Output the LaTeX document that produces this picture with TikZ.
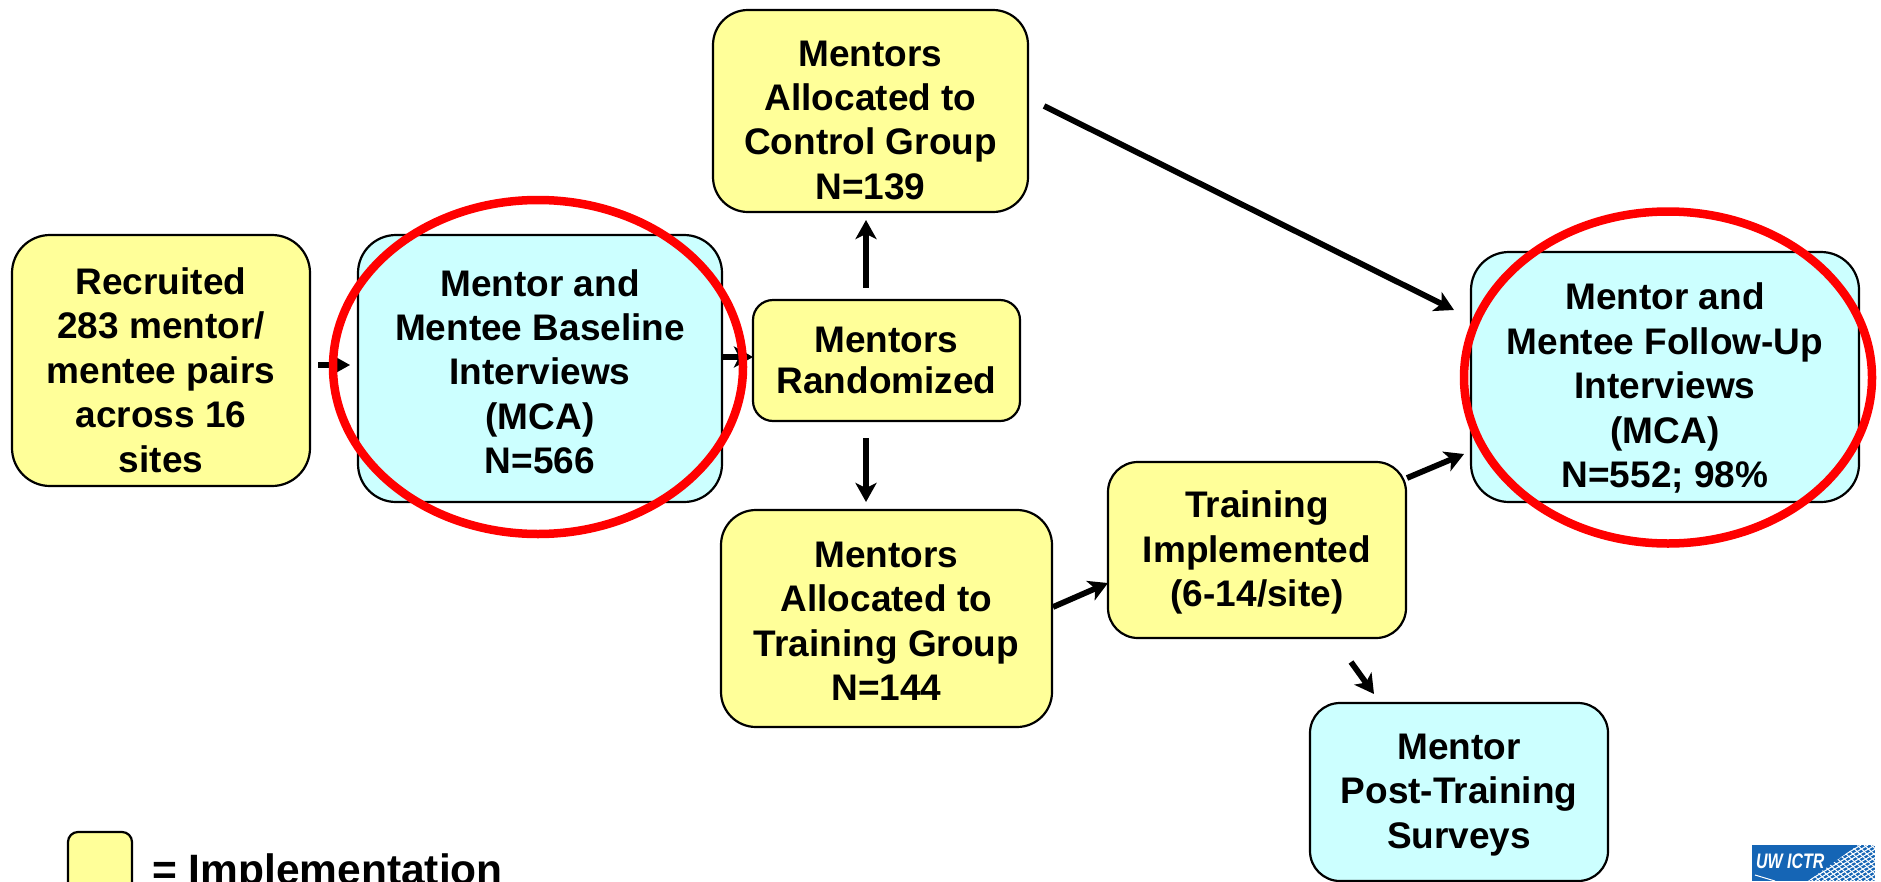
\documentclass[tikz,border=0pt]{standalone}
\usepackage{fontspec}
\setmainfont{Liberation Sans}
\usepackage{xcolor}
\usetikzlibrary{arrows.meta,positioning,calc,shapes.geometric}
\definecolor{impl}{HTML}{FFFF99}
\definecolor{eval}{HTML}{CCFFFF}
\definecolor{logoblue}{HTML}{1565B5}
\newcommand{\sink}[1]{\rule{0pt}{#1}}
\tikzset{
  box/.style={draw=black,line width=2.2pt,rounded corners=#1,align=center,inner sep=0pt,outer sep=0pt,
    font=\fontsize{37}{44.4}\selectfont\bfseries},
  link/.style={draw=black,line width=5.8pt,-{Stealth[length=19pt,width=21pt,inset=5pt]}},
  ring/.style={ellipse,draw=red,line width=8.5pt,inner sep=0pt,outer sep=0pt}
}
\begin{document}
\begin{tikzpicture}[x=1pt,y=-1pt]
  \clip (0,0) rectangle (1881,881);
  \node [box=38pt,fill=impl,minimum width=298pt,minimum height=251pt] (recruited) at (161,360.5) {\sink{46pt}Recruited\\283 mentor/\\mentee pairs\\across 16\\sites};
  \node [box=38pt,fill=eval,minimum width=364pt,minimum height=267pt] (baseline) at (540,368.5) {\sink{33pt}Mentor and\\Mentee Baseline\\Interviews\\(MCA)\\N=566};
  \node [box=35pt,fill=impl,minimum width=315pt,minimum height=202pt] (control) at (870.5,111) {\sink{44pt}Mentors\\Allocated to\\Control Group\\N=139};
  \node [box=20pt,fill=impl,minimum width=267pt,minimum height=121pt] (randomized) at (886.5,360.5) {Mentors\\[-4pt]Randomized};
  \node [box=35pt,fill=impl,minimum width=331pt,minimum height=217pt] (traingroup) at (886.5,618.5) {\sink{31pt}Mentors\\Allocated to\\Training Group\\N=144};
  \node [box=30pt,fill=impl,minimum width=298pt,minimum height=176pt] (implemented) at (1257,550) {\sink{32pt}Training\\Implemented\\(6-14/site)};
  \node [box=38pt,fill=eval,minimum width=388pt,minimum height=250pt] (followup) at (1665,377) {\sink{49pt}Mentor and\\Mentee Follow-Up\\Interviews\\(MCA)\\N=552; 98\%};
  \node [box=30pt,fill=eval,minimum width=298pt,minimum height=178pt] (survey) at (1459,792) {\sink{31pt}Mentor\\Post-Training\\Surveys};
  \node [box=10pt,fill=impl,minimum width=64pt,minimum height=60pt] (legbox) at (100,862) {};
  \node [anchor=base west,inner sep=0pt,font=\fontsize{42.5}{50}\selectfont\bfseries] (legtxt) at (152,884) {= Implementation};
  \draw [link] ([shift={(8,4.5)}]recruited.east) -- ([shift={(-8,-3.5)}]baseline.west);
  \draw [link] ([shift={(0,-3.5)}]randomized.west -| baseline.east) -- ([shift={(0,-3.5)}]randomized.west);
  \draw [link] ([shift={(-20.5,-12.5)}]randomized.north) -- ([shift={(-4.5,8)}]control.south);
  \draw [link] ([shift={(-20.5,17)}]randomized.south) -- ([shift={(-20.5,-8)}]traingroup.north);
  \draw [link] ([shift={(16,-5)}]control.east) -- ([shift={(-17,-67)}]followup.west);
  \draw [link] ([shift={(1,-11.5)}]traingroup.east) -- ([shift={(0,33)}]implemented.west);
  \draw [link] ([shift={(1,-72)}]implemented.east) -- ([shift={(-7,77)}]followup.west);
  \draw [link] ([shift={(94,24)}]implemented.south) -- ([shift={(-85,-9)}]survey.north);
  \node [ring,minimum width=410pt,minimum height=334pt] (ringleft) at (538,367) {};
  \node [ring,minimum width=408pt,minimum height=332pt] (ringright) at (1668,377.5) {};
  \fill [logoblue] (1752,845) rectangle (1875,881);
  \begin{scope}
    \clip (1808,881) -- (1858,845) -- (1875,845) -- (1875,881) -- cycle;
    \foreach \k in {0,7,...,140} {
      \draw [white,line width=1pt] (1752+\k,845) -- (1792+\k,881);
      \draw [white,line width=1pt] (1752+\k,881) -- (1812+\k,845);
    }
  \end{scope}
  \node [anchor=base west,inner sep=0pt,text=white,xscale=.76,font=\fontsize{21}{24}\selectfont\bfseries\itshape] (logo) at (1756,868) {UW ICTR};
  \draw [white,line width=1pt] (1755,875) -- (1775,881);
\end{tikzpicture}
\end{document}
